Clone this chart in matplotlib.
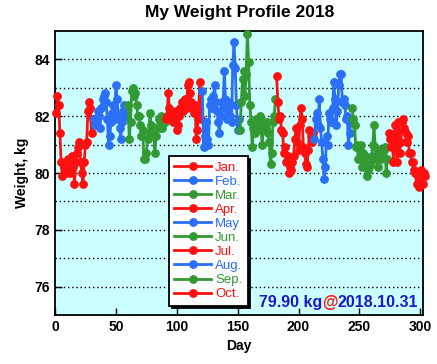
#Weight profile 2018 plot

import matplotlib
matplotlib.use('Agg')
import matplotlib.pyplot as plt
import numpy as np

month_names = ['Jan.', 'Feb.', 'Mar.', 'Apr.', 'May', 'Jun.', 'Jul.', 'Aug.', 'Sep.', 'Oct.']
month_days = [31, 28, 31, 30, 31, 30, 31, 31, 30, 31]

jan = [82.1, 82.7, 82.4, 81.4, 80.4, 79.9, 80.2, 80.4, 80.0, 80.3,
       80.5, 80.0, 80.3, 80.6, 80.2, 79.6, 80.4, 80.7, 80.9, 81.1,
       80.4, 80.0, 79.6, 80.4, 81.0, 81.1, 82.2, 82.5, 82.3, 81.4, 81.9]
feb = [81.9, 81.7, 81.9, 82.2, 82.0, 81.6, 82.3, 82.6, 82.7, 82.8,
       82.5, 81.9, 81.0, 81.3, 81.8, 82.1, 82.4, 81.9, 83.1, 82.6,
       82.0, 81.6, 81.2, 81.8, 82.2, 82.4, 82.0, 82.3]
mar = [82.4, 81.2, 81.8, 82.9, 83.0, 82.7, 82.8, 82.4, 82.0, 82.0,
       81.7, 81.3, 81.5, 80.5, 80.5, 80.7, 81.2, 81.4, 82.1, 81.7,
       81.4, 81.5, 80.7, 81.3, 81.6, 81.9, 81.6, 82.0, 81.6, 81.9, 81.8]
apr = [81.9, 82.0, 82.8, 82.3, 81.9, 82.1, 81.8, 82.0, 82.2, 81.5,
       81.7, 82.0, 82.3, 82.5, 82.2, 82.4, 82.6, 82.3, 83.1, 83.2,
       82.8, 82.5, 82.3, 82.1, 82.4, 81.2, 81.5, 82.3, 83.2, 81.9]
may = [82.9, 80.9, 81.3, 81.8, 81.2, 81.0, 82.4, 82.6, 82.3, 82.7,
       83.1, 82.5, 82.2, 81.8, 81.4, 82.0, 82.5, 82.3, 83.6, 82.6,
       81.9, 82.2, 82.5, 82.0, 81.8, 83.8, 84.6, 83.7, 82.4, 81.5, 81.9]
jun = [81.5, 82.5, 83.3, 83.6, 82.7, 83.5, 84.9, 83.9, 82.4, 81.8,
       80.9, 81.6, 81.4, 81.9, 81.9, 81.6, 82.0, 81.9, 81.0, 81.5,
       81.7, 81.6, 81.8, 81.4, 81.1, 80.3, 80.7, 81.8, 82.0, 82.6]
jul = [83.4, 82.5, 81.9, 82.0, 81.5, 81.4, 80.7, 80.9, 80.4, 80.6,
       80.0, 80.2, 80.1, 80.4, 80.6, 81.2, 81.6, 81.1, 80.8, 81.7,
       82.3, 81.9, 80.9, 80.7, 80.3, 80.2, 80.8, 81.5, 81.3, 81.1, 81.4]
aug = [81.2, 81.9, 82.1, 81.7, 82.6, 81.6, 81.1, 80.5, 79.8, 80.2,
       81.3, 81.0, 82.1, 81.9, 81.8, 82.3, 83.2, 82.6, 81.7, 82.2,
       83.1, 83.5, 83.5, 82.5, 82.6, 82.4, 81.9, 82.0, 81.0, 81.4, 81.8]
sep = [82.3, 81.9, 81.7, 80.9, 81.0, 80.5, 80.9, 81.0, 80.2, 80.7,
       80.5, 80.6, 79.9, 80.1, 80.2, 80.3, 80.6, 81.0, 81.7, 80.9,
       80.5, 80.2, 80.7, 80.8, 80.5, 80.6, 80.8, 80.9, 80.0, 80.5]
oct_ = [81.4, 81.2, 80.9, 81.0, 80.4, 81.7, 81.1, 80.4, 81.8, 80.7,
        81.1, 81.8, 81.9, 81.6, 81.4, 81.1, 81.3, 80.7, 80.7, 80.4,
        80.4, 80.1, 80.0, 79.6, 79.9, 79.5, 79.7, 80.1, 79.6, 80.0, 79.9]

weights = [jan, feb, mar, apr, may, jun, jul, aug, sep, oct_]
last_date = '2018.10.31'

colors = ['#ff1010', '#2a6ff5', '#339933']

plt.rcParams['font.family'] = ['Liberation Sans', 'DejaVu Sans']

fig = plt.figure(figsize=(4.37, 3.64), dpi=100)
ax = fig.add_axes([0.1259, 0.1346, 0.8428, 0.7802])
ax.set_facecolor('#ccffff')

start = 1
for i, w in enumerate(weights):
    days = np.arange(start, start + month_days[i])
    start += month_days[i]
    ax.plot(days, w, '-o', color=colors[i % 3], lw=2, ms=5.3,
            label=month_names[i], clip_on=False, zorder=3)

ax.set_xlim(0, 302.5)
ax.set_ylim(75, 85)
ax.set_xticks([0, 50, 100, 150, 200, 250, 300])
ax.set_yticks([76, 78, 80, 82, 84])
ax.set_yticks([77, 79, 81, 83], minor=True)
ax.tick_params(which='major', direction='in', length=5, width=1)
ax.tick_params(which='minor', length=0)
ax.tick_params(labelsize=10)
for lab in ax.get_xticklabels() + ax.get_yticklabels():
    lab.set_fontweight('bold')
ax.yaxis.grid(True, which='both', linestyle=(0, (1, 2)), color='black', lw=1)
for s in ax.spines.values():
    s.set_linewidth(1.3)

ax.set_title('My Weight Profile 2018', fontsize=12.5, fontweight='bold', pad=10)
ax.set_xlabel('Day', fontsize=10, fontweight='bold')
ax.set_ylabel('Weight, kg', fontsize=10, fontweight='bold')

leg = ax.legend(loc='upper left', bbox_to_anchor=(169 / 437, 1 - 156 / 364),
                bbox_transform=fig.transFigure, fontsize=9.5, labelspacing=0.14,
                handlelength=2.8, handletextpad=0.3, borderaxespad=0,
                fancybox=False, framealpha=1, edgecolor='black',
                shadow={'color': 'black', 'alpha': 1})
leg.get_frame().set_linewidth(1.3)
leg.set_zorder(5)
for t, line in zip(leg.get_texts(), leg.get_lines()):
    t.set_color(line.get_color())

# latest value label, "@" drawn in red
fig.canvas.draw()
r = fig.canvas.get_renderer()
ty = 0.018
t3 = ax.text(0.985, ty, last_date, transform=ax.transAxes, ha='right', va='bottom',
             fontsize=11.5, fontweight='bold', color='#1a1acc')
bb = t3.get_window_extent(r)
inv = ax.transAxes.inverted()
x3 = inv.transform((bb.x0, bb.y0))[0]
t2 = ax.text(x3, ty, '@', transform=ax.transAxes, ha='right', va='bottom',
             fontsize=11.5, fontweight='bold', color='#ff1010')
bb = t2.get_window_extent(r)
x2 = inv.transform((bb.x0, bb.y0))[0]
ax.text(x2, ty, '%.2f kg' % weights[-1][-1], transform=ax.transAxes, ha='right',
        va='bottom', fontsize=11.5, fontweight='bold', color='#1a1acc')

plt.savefig('out.png', dpi=100)
